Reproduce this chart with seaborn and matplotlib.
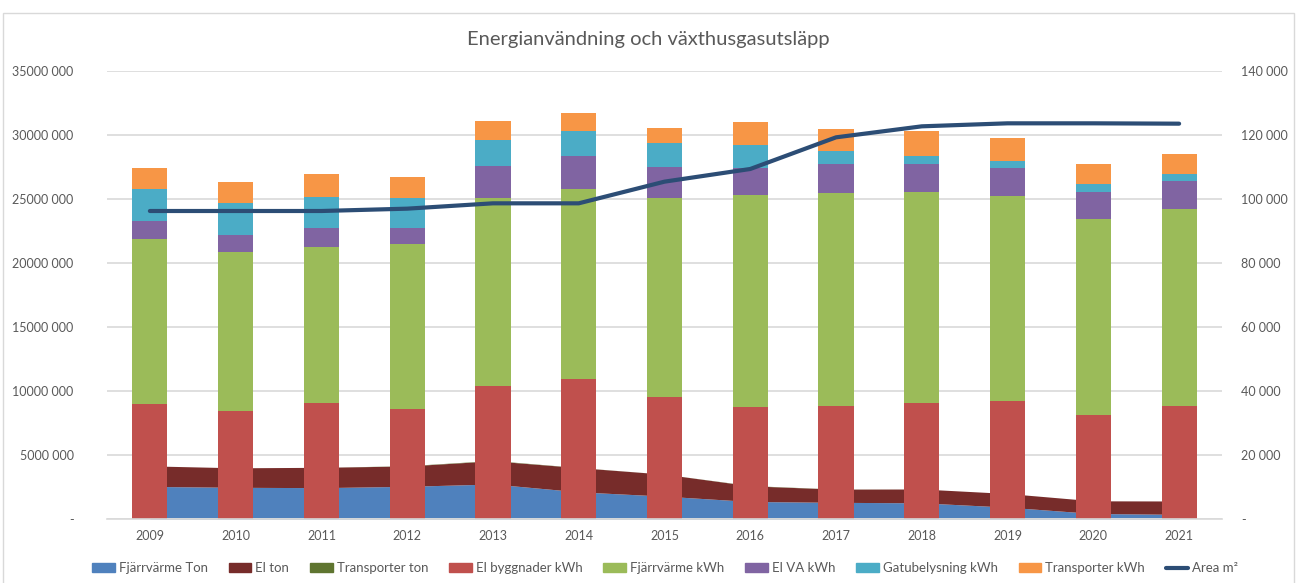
import numpy as np
import pandas as pd
import matplotlib
matplotlib.use('Agg')
import matplotlib.pyplot as plt
import seaborn as sns
from matplotlib.ticker import FuncFormatter
from matplotlib.patches import Patch, Rectangle
from matplotlib.lines import Line2D

#########################
#         Data          #
#########################
years = ['2009', '2010', '2011', '2012', '2013', '2014', '2015',
         '2016', '2017', '2018', '2019', '2020', '2021']

# kWh (left axis, stacked bars)
el_byggnader_kwh = [8980000, 8440000, 9040000, 8620000, 10390000, 10910000, 9560000,
                    8750000, 8800000, 9090000, 9220000, 8130000, 8800000]
fjarrvarme_kwh = [12900000, 12450000, 12240000, 12840000, 14710000, 14870000, 15490000,
                  16560000, 16640000, 16460000, 16010000, 15310000, 15420000]
el_va_kwh = [1400000, 1300000, 1430000, 1250000, 2480000, 2550000, 2450000,
             2110000, 2320000, 2210000, 2170000, 2080000, 2190000]
gatubelysning_kwh = [2470000, 2470000, 2450000, 2340000, 2060000, 1980000, 1870000,
                     1800000, 990000, 600000, 570000, 650000, 570000]
transporter_kwh = [1700000, 1670000, 1820000, 1670000, 1450000, 1410000, 1180000,
                   1820000, 1750000, 1950000, 1820000, 1540000, 1540000]

# ton (right axis, stacked areas)
fjarrvarme_ton = [10180, 9900, 9800, 10210, 10940, 8490, 7140, 5470, 5210, 5050, 3700, 1720, 1460]
el_ton = [6420, 6100, 6350, 6360, 7240, 7560, 6870, 4900, 4120, 4330, 4270, 3960, 4170]
transporter_ton = [0, 0, 0, 80, 120, 40, 0, 80, 40, 0, 0, 0, 0]

# m2 (right axis, line)
area_m2 = [96250, 96250, 96250, 96980, 98650, 98650, 105420,
           109380, 119270, 122710, 123650, 123650, 123540]

bar_names = ['El byggnader kWh', 'Fjärrvärme kWh', 'El VA kWh', 'Gatubelysning kWh', 'Transporter kWh']
bar_colors = ['#C0504D', '#9BBB59', '#8064A2', '#4BACC6', '#F79646']
area_names = ['Fjärrvärme Ton', 'El ton', 'Transporter ton']
area_colors = ['#4F81BD', '#772C2A', '#5F7530']
line_color = '#2C4D75'
text_color = '#595959'
grid_color = '#D9D9D9'

df = pd.DataFrame({'Year': years,
                   bar_names[0]: el_byggnader_kwh,
                   bar_names[1]: fjarrvarme_kwh,
                   bar_names[2]: el_va_kwh,
                   bar_names[3]: gatubelysning_kwh,
                   bar_names[4]: transporter_kwh})
# cumulative sums for layered bars
cum = df[bar_names].cumsum(axis=1)


def space_fmt(x, pos):
    if x == 0:
        return '-'
    x = int(round(x))
    return f'{x // 1000} {x % 1000:03d}'


#########################
#       Plotting        #
#########################
sns.set_theme(style='white')
plt.rcParams['font.family'] = ['Lato', 'DejaVu Sans']

fig, ax = plt.subplots(figsize=(12.97, 5.83), dpi=100)
fig.subplots_adjust(left=107 / 1297, right=1222 / 1297, bottom=1 - 519 / 583, top=1 - 71 / 583)

# areas on the right axis, behind the bars
ax_area = ax.twinx()
x = np.arange(len(years))
ax_area.stackplot(x, fjarrvarme_ton, el_ton, transporter_ton, colors=area_colors, linewidth=0)
ax_area.set_ylim(0, 140000)
ax_area.set_yticks(np.arange(0, 140001, 20000))
ax_area.yaxis.set_major_formatter(FuncFormatter(space_fmt))
ax_area.tick_params(axis='y', length=0, labelsize=9, labelcolor=text_color, pad=14)

ax.set_zorder(ax_area.get_zorder() + 1)
ax.patch.set_visible(False)

# stacked bars (top layer first)
for i in reversed(range(len(bar_names))):
    sns.barplot(x='Year', y=cum[bar_names[i]], data=df, color=bar_colors[i],
                saturation=1, width=0.41, linewidth=0, ax=ax)

ax.set_ylim(0, 35000000)
ax.set_xlim(-0.5, len(years) - 0.5)
ax.set_yticks(np.arange(0, 35000001, 5000000))
ax.yaxis.set_major_formatter(FuncFormatter(space_fmt))
ax.yaxis.grid(True, color=grid_color, linewidth=1.2)
ax.set_axisbelow(True)
ax.set_xlabel('')
ax.set_ylabel('')
ax.tick_params(axis='y', length=0, labelsize=9, labelcolor=text_color, pad=24)
ax.tick_params(axis='x', length=0, labelsize=9, labelcolor=text_color, pad=8)

# line on top
ax_line = ax.twinx()
ax_line.set_zorder(ax.get_zorder() + 1)
sns.lineplot(x=x, y=area_m2, color=line_color, linewidth=3, ax=ax_line)
ax_line.set_ylim(0, 140000)
ax_line.set_yticks([])
ax_line.set_xlim(-0.5, len(years) - 0.5)

for a in (ax, ax_area, ax_line):
    for s in a.spines.values():
        s.set_visible(False)
ax.spines['bottom'].set_visible(True)
ax.spines['bottom'].set_color(grid_color)
ax.spines['bottom'].set_linewidth(1.2)

fig.text(0.5, 1 - 40 / 583, 'Energianvändning och växthusgasutsläpp', ha='center', va='center',
         fontsize=14.5, color=text_color)

handles = [Patch(color=c) for c in area_colors] + [Patch(color=c) for c in bar_colors] + \
          [Line2D([0], [0], color=line_color, linewidth=3)]
labels = area_names + bar_names + ['Area m²']
fig.legend(handles, labels, loc='center', bbox_to_anchor=(0.513, 1 - 568 / 583), ncol=9,
           frameon=False, fontsize=9.5, labelcolor=text_color, handlelength=1.7,
           handleheight=0.6, handletextpad=0.3, columnspacing=1.6)

fig.patches.append(Rectangle((3 / 1297, -0.01), 1291 / 1297, 1.01 - 13 / 583,
                             transform=fig.transFigure, fill=False, edgecolor=grid_color, linewidth=1))

plt.savefig('out.png', dpi=100)
